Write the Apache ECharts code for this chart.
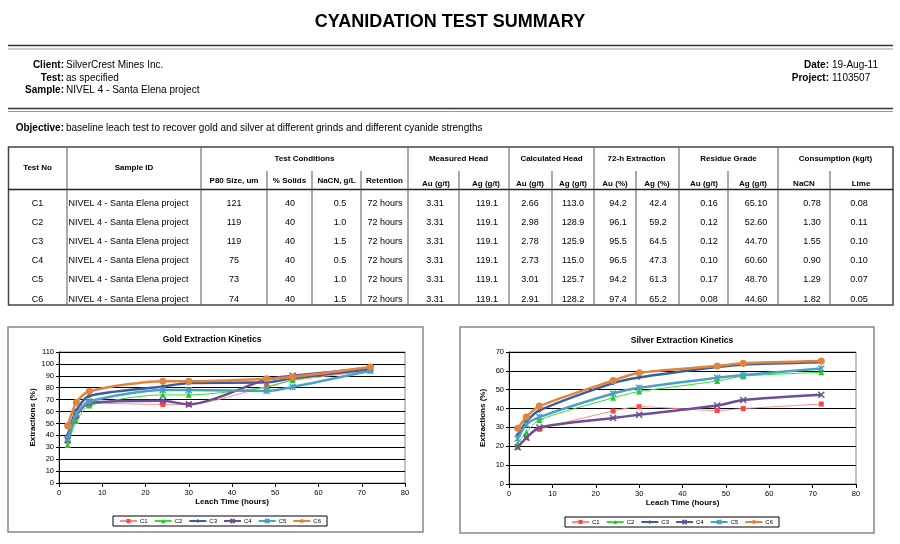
<!DOCTYPE html>
<html><head><meta charset="utf-8">
<script src="https://cdn.jsdelivr.net/npm/echarts@6/dist/echarts.min.js"></script>
<style>html,body{margin:0;padding:0;background:#fff}#c{width:900px;height:544px}</style>
</head><body><div id="c"></div>
<script>
// ---------- data ----------
const hours = [2, 4, 7, 24, 30, 48, 54, 72];
const seriesNames = ['C1', 'C2', 'C3', 'C4', 'C5', 'C6'];
const goldC1 = [35, 55, 67, 66, 66, 81, 86, 94.2];
const goldC2 = [32, 52, 65, 74, 74, 80.5, 86.5, 96.1];
const goldC3 = [40, 61, 73, 81, 84, 84.5, 88, 95.5];
const goldC4 = [36, 57, 67, 69, 66, 87, 90, 96.5];
const goldC5 = [37, 58, 68.5, 78, 78, 77.3, 80.6, 94.2];
const goldC6 = [48, 67.5, 77, 85.5, 85.5, 87.5, 89, 97.4];
const silverC1 = [19.5, 24.5, 29, 38.7, 41, 39, 40, 42.4];
const silverC2 = [21.5, 27.5, 34, 45.7, 49, 54.6, 57.2, 59.2];
const silverC3 = [26, 33, 39, 53.5, 56.5, 62, 63.3, 64.5];
const silverC4 = [19.5, 24.5, 30, 35, 36.7, 41.6, 44.5, 47.3];
const silverC5 = [24, 31.5, 35.5, 48, 51, 56.3, 57.8, 61.3];
const silverC6 = [29.5, 35.5, 41.3, 54.9, 59, 62.6, 64, 65.2];

const testNo = ['C1', 'C2', 'C3', 'C4', 'C5', 'C6'];
const sampleId = ['NIVEL 4 - Santa Elena project', 'NIVEL 4 - Santa Elena project', 'NIVEL 4 - Santa Elena project', 'NIVEL 4 - Santa Elena project', 'NIVEL 4 - Santa Elena project', 'NIVEL 4 - Santa Elena project'];
const p80 = ['121', '119', '119', '75', '73', '74'];
const solids = ['40', '40', '40', '40', '40', '40'];
const nacnGL = ['0.5', '1.0', '1.5', '0.5', '1.0', '1.5'];
const retention = ['72 hours', '72 hours', '72 hours', '72 hours', '72 hours', '72 hours'];
const measAu = ['3.31', '3.31', '3.31', '3.31', '3.31', '3.31'];
const measAg = ['119.1', '119.1', '119.1', '119.1', '119.1', '119.1'];
const calcAu = ['2.66', '2.98', '2.78', '2.73', '3.01', '2.91'];
const calcAg = ['113.0', '128.9', '125.9', '115.0', '125.7', '128.2'];
const extAu = ['94.2', '96.1', '95.5', '96.5', '94.2', '97.4'];
const extAg = ['42.4', '59.2', '64.5', '47.3', '61.3', '65.2'];
const resAu = ['0.16', '0.12', '0.12', '0.10', '0.17', '0.08'];
const resAg = ['65.10', '52.60', '44.70', '60.60', '48.70', '44.60'];
const consNaCN = ['0.78', '1.30', '1.55', '0.90', '1.29', '1.82'];
const consLime = ['0.08', '0.11', '0.10', '0.10', '0.07', '0.05'];

// ---------- styles ----------
const FONT = 'Liberation Sans, Arial, sans-serif';
const styles = [
  { line: '#FF8C8C', mark: '#FF4444', width: 1, symbol: 'rect', size: 5 },
  { line: '#33DD33', mark: '#22CC22', width: 1, symbol: 'triangle', size: 6 },
  { line: '#3B5E9C', mark: '#3B5E9C', width: 2.5, symbol: 'diamond', size: 5 },
  { line: '#6A4E96', mark: '#6A4E96', width: 2.5, symbol: 'path://M0,0L10,10M10,0L0,10', size: 6, stroke: true },
  { line: '#4BA1C0', mark: '#4BA1C0', width: 2.5, symbol: 'path://M0,0L10,10M10,0L0,10M5,0L5,10', size: 6, stroke: true },
  { line: '#E0843E', mark: '#E0843E', width: 2.5, symbol: 'circle', size: 7 }
];
const goldData = [goldC1, goldC2, goldC3, goldC4, goldC5, goldC6];
const silverData = [silverC1, silverC2, silverC3, silverC4, silverC5, silverC6];

function mkSeries(dataArr, gi) {
  return seriesNames.map((n, i) => {
    const s = styles[i];
    return {
      name: n, type: 'line', xAxisIndex: gi, yAxisIndex: gi,
      data: hours.map((h, k) => [h, dataArr[i][k]]),
      smooth: 0.25, symbol: s.symbol, symbolSize: s.size,
      lineStyle: { color: s.line, width: s.width },
      itemStyle: s.stroke ? { color: s.mark, borderColor: s.mark, borderWidth: 1.5 } : { color: s.mark, borderWidth: 0 },
      z: 3 + i
    };
  });
}

// ---------- graphic (header + table) ----------
const g = [];
function txt(x, y, t, o) {
  o = o || {};
  g.push({ type: 'text', x: x, y: y, silent: true, style: { text: t, fill: o.color || '#000', font: (o.bold ? 'bold ' : '') + (o.size || 9) + 'px ' + FONT, textAlign: o.align || 'center', textVerticalAlign: 'middle' } });
}
function ln(x1, y1, x2, y2, w, c) {
  g.push({ type: 'line', silent: true, shape: { x1: x1, y1: y1, x2: x2, y2: y2 }, style: { stroke: c || '#000', lineWidth: w || 1 } });
}
function rect(x, y, w, h, c, lw) {
  g.push({ type: 'rect', silent: true, shape: { x: x, y: y, width: w, height: h }, style: { fill: 'none', stroke: c, lineWidth: lw } });
}

txt(450, 22, 'CYANIDATION TEST SUMMARY', { bold: true, size: 18 });
ln(8, 45.5, 893, 45.5, 1.5, '#333'); ln(8, 49, 893, 49, 1, '#999');
ln(8, 108.5, 893, 108.5, 1.5, '#333'); ln(8, 111.5, 893, 111.5, 1, '#999');
txt(64, 65, 'Client:', { bold: true, size: 10, align: 'right' });
txt(66, 65, 'SilverCrest Mines Inc.', { size: 10, align: 'left' });
txt(64, 78, 'Test:', { bold: true, size: 10, align: 'right' });
txt(66, 78, 'as specified', { size: 10, align: 'left' });
txt(64, 90, 'Sample:', { bold: true, size: 10, align: 'right' });
txt(66, 90, 'NIVEL 4 - Santa Elena project', { size: 10, align: 'left' });
txt(829, 65, 'Date:', { bold: true, size: 10, align: 'right' });
txt(832, 65, '19-Aug-11', { size: 10, align: 'left' });
txt(829, 78, 'Project:', { bold: true, size: 10, align: 'right' });
txt(832, 78, '1103507', { size: 10, align: 'left' });
txt(64, 128, 'Objective:', { bold: true, size: 10, align: 'right' });
txt(66, 128, 'baseline leach test to recover gold and silver at different grinds and different cyanide strengths', { size: 10, align: 'left' });

// table frame
const tTop = 147, tSub = 171, tHead = 189.5, tBot = 305;
rect(8.5, tTop, 884.5, tBot - tTop, '#444', 1.5);
ln(8, tHead, 893, tHead, 1.5, '#222');
[67, 201, 408, 509, 594, 679, 778].forEach(x => ln(x, tTop, x, tBot, 1, '#555'));
[267, 312, 361, 459, 552, 636, 728, 830].forEach(x => ln(x, tSub, x, tBot, 1, '#555'));

const hb = { bold: true, size: 8 };
txt(37.5, 168, 'Test No', hb);
txt(134, 168, 'Sample ID', hb);
txt(304.5, 159, 'Test Conditions', hb);
txt(458.5, 159, 'Measured Head', hb);
txt(551.5, 159, 'Calculated Head', hb);
txt(636.5, 159, '72-h Extraction', hb);
txt(728.5, 159, 'Residue Grade', hb);
txt(835.5, 159, 'Consumption (kg/t)', hb);
const subHdr = [
  [234, 181, 'P80 Size, um'], [289.5, 181, '% Solids'], [336.5, 181, 'NaCN, g/L'], [384.5, 181, 'Retention'],
  [436, 184, 'Au (g/t)'], [486, 184, 'Ag (g/t)'], [530, 184, 'Au (g/t)'], [573, 184, 'Ag (g/t)'],
  [615, 184, 'Au (%)'], [657, 184, 'Ag (%)'], [704, 184, 'Au (g/t)'], [753, 184, 'Ag (g/t)'],
  [804, 184, 'NaCN'], [861, 184, 'Lime']
];
subHdr.forEach(s => txt(s[0], s[1], s[2], hb));

const rowY = [203.5, 222.5, 241.5, 261, 280, 299.5];
const cols = [
  [testNo, 37.5, 'center'], [sampleId, 68.5, 'left'], [p80, 234, 'center'], [solids, 290, 'center'],
  [nacnGL, 340, 'center'], [retention, 385, 'center'], [measAu, 435, 'center'], [measAg, 487, 'center'],
  [calcAu, 530, 'center'], [calcAg, 573, 'center'], [extAu, 618, 'center'], [extAg, 658, 'center'],
  [resAu, 709, 'center'], [resAg, 756, 'center'], [consNaCN, 812, 'center'], [consLime, 859, 'center']
];
cols.forEach(c => c[0].forEach((v, r) => txt(c[1], rowY[r], v, { size: 9, align: c[2] })));

// chart boxes
rect(8, 327, 415, 205, '#888', 1.5);
rect(460, 327, 414, 206, '#888', 1.5);
txt(212, 340, 'Gold Extraction Kinetics', { bold: true, size: 8.5 });
txt(682, 341, 'Silver Extraction Kinetics', { bold: true, size: 8.5 });

// ---------- axes ----------
function xAx(gi) {
  return {
    type: 'value', gridIndex: gi, min: 0, max: 80, interval: 10,
    name: 'Leach Time (hours)', nameLocation: 'middle', nameGap: 15,
    nameTextStyle: { fontFamily: FONT, fontWeight: 'bold', fontSize: 8, color: '#000' },
    axisLine: { lineStyle: { color: '#000', width: 1 } },
    axisTick: { show: true, length: 4, lineStyle: { color: '#000' } },
    axisLabel: { fontFamily: FONT, fontSize: 7.5, color: '#000', margin: 6 },
    splitLine: { show: false }
  };
}
function yAx(gi, max) {
  return {
    type: 'value', gridIndex: gi, min: 0, max: max, interval: 10,
    name: 'Extractions (%)', nameLocation: 'middle', nameGap: 22, nameRotate: 90,
    nameTextStyle: { fontFamily: FONT, fontWeight: 'bold', fontSize: 8, color: '#000' },
    axisLine: { show: true, lineStyle: { color: '#000', width: 1 } },
    axisTick: { show: true, length: 3, lineStyle: { color: '#000' } },
    axisLabel: { fontFamily: FONT, fontSize: 7.5, color: '#000', margin: 5 },
    splitLine: { show: true, lineStyle: { color: '#000', width: 1 } }
  };
}
function leg(left, top) {
  return {
    data: seriesNames, left: left, top: top, orient: 'horizontal',
    borderColor: '#000', borderWidth: 1, padding: [2, 6], itemGap: 6,
    itemWidth: 17, itemHeight: 5, selectedMode: false,
    textStyle: { fontFamily: FONT, fontSize: 6, color: '#000', padding: [0, 0, 0, -2] }
  };
}

const chart = echarts.init(document.getElementById('c'), null, { renderer: 'canvas' });
chart.setOption({
  animation: false,
  backgroundColor: '#fff',
  grid: [
    { left: 59, top: 352, width: 346, height: 131, show: true, borderColor: '#888', borderWidth: 1, backgroundColor: '#fff' },
    { left: 509, top: 352, width: 347, height: 132, show: true, borderColor: '#888', borderWidth: 1, backgroundColor: '#fff' }
  ],
  xAxis: [xAx(0), xAx(1)],
  yAxis: [yAx(0, 110), yAx(1, 70)],
  legend: [leg(113, 516), leg(565, 517)],
  graphic: g,
  series: mkSeries(goldData, 0).concat(mkSeries(silverData, 1))
});
</script>
</body></html>
